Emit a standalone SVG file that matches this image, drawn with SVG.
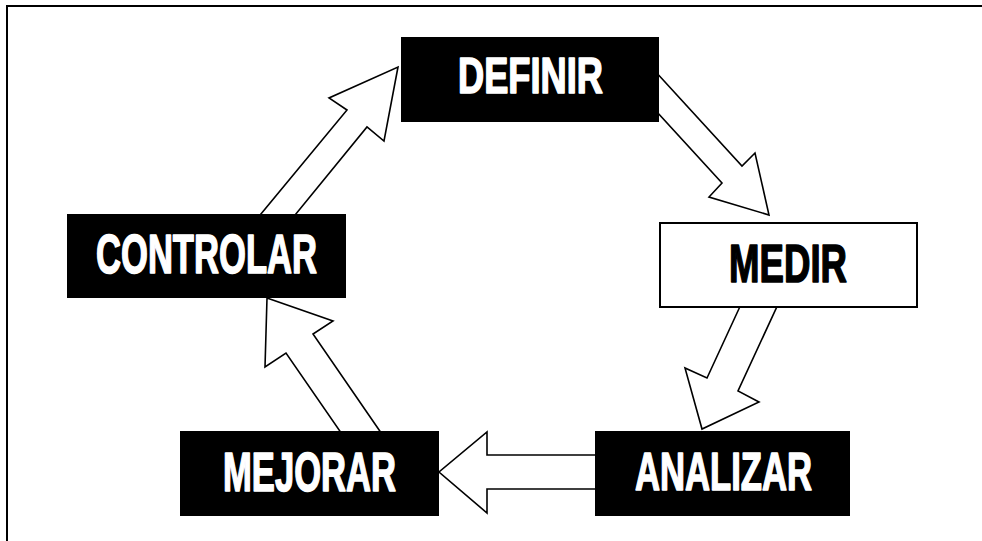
<svg xmlns="http://www.w3.org/2000/svg" width="982" height="541" viewBox="0 0 982 541">
<style>
.frame{stroke:#000;stroke-width:2;fill:none}
.arrow{fill:#fff;stroke:#000;stroke-width:1.6;stroke-linejoin:miter}
.dark{fill:#000}
.light{fill:#fff;stroke:#000;stroke-width:2}
.lbl{font-family:"Liberation Sans",Arial,sans-serif;font-weight:bold;stroke-width:1.6;stroke-linejoin:round}
.w{fill:#fff;stroke:#fff}
.b{fill:#000;stroke:#000}
</style>
<rect width="982" height="541" fill="#fff"/>
<path class="frame" d="M7,541 V6 H982"/>
<g id="connectors">
<polygon class="arrow" points="654,70 742,166 755,153 769,215 709,197 722,183 646,100"/>
<polygon class="arrow" points="743,300 707,378 685,368 702,429 759,402 738,391 780,300"/>
<polygon class="arrow" points="600,455 487,455 487,432 439,472 487,513 487,489 600,489"/>
<polygon class="arrow" points="267,298 333,321 313,334 386,440 346,440 286,353 265,367"/>
<polygon class="arrow" points="398,67 384,141 367,127 291,220 256,220 347,110 329,98"/>
</g>
<g id="definir">
<rect class="dark" x="401" y="37" width="258" height="85"/>
<text class="lbl w" x="458" y="93" font-size="50" textLength="145" lengthAdjust="spacingAndGlyphs">DEFINIR</text>
</g>
<g id="medir">
<rect class="light" x="660" y="223" width="257" height="84"/>
<text class="lbl b" x="729" y="282" font-size="54" textLength="118" lengthAdjust="spacingAndGlyphs">MEDIR</text>
</g>
<g id="analizar">
<rect class="dark" x="595" y="431" width="255" height="85"/>
<text class="lbl w" x="635" y="490" font-size="54" textLength="177" lengthAdjust="spacingAndGlyphs">ANALIZAR</text>
</g>
<g id="mejorar">
<rect class="dark" x="180" y="431" width="259" height="85"/>
<text class="lbl w" x="223" y="491" font-size="55" textLength="173" lengthAdjust="spacingAndGlyphs">MEJORAR</text>
</g>
<g id="controlar">
<rect class="dark" x="67" y="214" width="279" height="84"/>
<text class="lbl w" x="96" y="273" font-size="55" textLength="221" lengthAdjust="spacingAndGlyphs">CONTROLAR</text>
</g>
</svg>
